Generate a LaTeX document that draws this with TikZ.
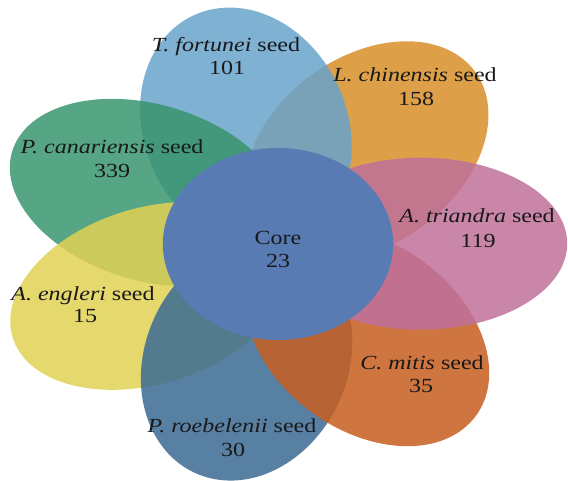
\documentclass[tikz,border=0pt]{standalone}
\usepackage{fontspec}
\setmainfont{Liberation Serif}
\definecolor{cBlue}{RGB}{104,163,203}
\definecolor{cOrange}{RGB}{215,143,40}
\definecolor{cPink}{RGB}{191,113,154}
\definecolor{cMitis}{RGB}{198,93,31}
\definecolor{cRoeb}{RGB}{59,106,147}
\definecolor{cEngl}{RGB}{224,209,84}
\definecolor{cGreen}{RGB}{56,149,110}
\definecolor{cCore}{RGB}{88,123,179}
\definecolor{cText}{RGB}{25,25,25}
\begin{document}
\begin{tikzpicture}[x=1pt,y=1pt,
  petal/.style={fill opacity=0.85},
  lbl/.style={anchor=base, xscale=1.2, inner sep=0pt, text=cText,
    font=\fontsize{20}{24}\selectfont}]
\useasboundingbox (0,0) rectangle (568,481);
\begin{scope}[shift={(278,237)}, xscale=1.2]
  \fill[petal, cOrange, rotate=51.57]  (119,0) ellipse [x radius=122, y radius=86];
  \fill[petal, cBlue,   rotate=103]    (119,0) ellipse [x radius=122, y radius=86];
  \fill[petal, cGreen,  rotate=154.43] (119,0) ellipse [x radius=122, y radius=86];
  \fill[petal, cEngl,   rotate=-154.14](119,0) ellipse [x radius=122, y radius=86];
  \fill[petal, cRoeb,   rotate=-102.71](119,0) ellipse [x radius=122, y radius=86];
  \fill[petal, cMitis,  rotate=-51.29] (119,0) ellipse [x radius=122, y radius=86];
  \fill[petal, cPink,   rotate=0.14]   (119,0) ellipse [x radius=122, y radius=86];
  \fill[cCore] (0,0) circle [radius=96];
\end{scope}
\node[lbl] (tf)  at (226,429) {\textit{T. fortunei} seed};
\node[lbl] (tfn) at (227,406) {101};
\node[lbl] (lc)  at (415,399) {\textit{L. chinensis} seed};
\node[lbl] (lcn) at (416,375) {158};
\node[lbl] (pc)  at (112,327) {\textit{P. canariensis} seed};
\node[lbl] (pcn) at (112,303) {339};
\node[lbl] (at)  at (477,258) {\textit{A. triandra} seed};
\node[lbl] (atn) at (478,233) {119};
\node[lbl] (ae)  at (83,180) {\textit{A. engleri} seed};
\node[lbl] (aen) at (85,158) {15};
\node[lbl] (cm)  at (422,111) {\textit{C. mitis} seed};
\node[lbl] (cmn) at (421,88) {35};
\node[lbl] (pr)  at (232,48) {\textit{P. roebelenii} seed};
\node[lbl] (prn) at (233,24) {30};
\node[lbl] (core)  at (278,236) {Core};
\node[lbl] (coren) at (278,213) {23};
\end{tikzpicture}
\end{document}
